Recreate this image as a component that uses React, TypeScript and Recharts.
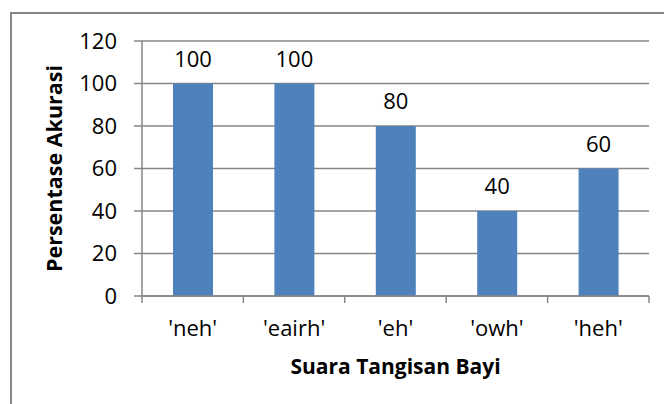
import React from "react";
import { BarChart, Bar, XAxis, YAxis, CartesianGrid, LabelList, Label } from "recharts";

const categories = ["'neh'", "'eairh'", "'eh'", "'owh'", "'heh'"];
const accuracy = [100, 100, 80, 40, 60];
const yTicks = [0, 20, 40, 60, 80, 100, 120];

const data = categories.map((name, i) => ({ name, value: accuracy[i] }));

const FONT = "'Open Sans', sans-serif";
const AXIS = "#868686";
const BAR = "#4F81BD";

// category label plus the small tick marks that sit between categories
const CategoryTick = (props: any) => {
  const { x, y, payload, index, visibleTicksCount } = props;
  const half = payload.offset || 0;
  const isLast = index === visibleTicksCount - 1;
  return (
    <g>
      <line x1={x - half} x2={x - half} y1={y} y2={y + 7} stroke={AXIS} strokeWidth={1.5} />
      {isLast && <line x1={x + half} x2={x + half} y1={y} y2={y + 7} stroke={AXIS} strokeWidth={1.5} />}
      <text x={x} y={y + 40} textAnchor="middle" fill="#000" fontSize={22} fontFamily={FONT}>
        {payload.value}
      </text>
    </g>
  );
};

export default function App() {
  return (
    <div style={{ position: "relative", width: 664, height: 404, overflow: "hidden", background: "#fff", fontFamily: FONT }}>
      <style>{"body{margin:0}"}</style>
      {/* chart frame, cut off on the right and bottom */}
      <div
        style={{
          position: "absolute",
          left: 10,
          top: 12,
          width: 700,
          height: 450,
          border: `2px solid ${AXIS}`,
        }}
      />
      <div style={{ position: "absolute", left: 0, top: 0 }}>
        <BarChart
          width={664}
          height={404}
          data={data}
          margin={{ top: 41, right: 15, bottom: 0, left: 30 }}
        >
          <CartesianGrid vertical={false} stroke={AXIS} strokeWidth={1.5} />
          <XAxis
            dataKey="name"
            height={108}
            axisLine={{ stroke: AXIS, strokeWidth: 1.5 }}
            tickLine={false}
            tickSize={0}
            tickMargin={0}
            tick={<CategoryTick />}
            interval={0}
          >
            <Label
              value="Suara Tangisan Bayi"
              position="insideBottom"
              offset={30}
              style={{ fill: "#000", fontSize: 21, fontWeight: 700, fontFamily: FONT }}
            />
          </XAxis>
          <YAxis
            width={112}
            domain={[0, 120]}
            ticks={yTicks}
            axisLine={{ stroke: AXIS, strokeWidth: 1.5 }}
            tickLine={{ stroke: AXIS, strokeWidth: 1.5 }}
            tickSize={8}
            tickMargin={17}
            tick={{ fill: "#000", fontSize: 22, fontFamily: FONT }}
          >
            <Label
              value="Persentase Akurasi"
              angle={-90}
              position="insideLeft"
              offset={24}
              textAnchor="middle"
              style={{ fill: "#000", fontSize: 21.5, fontWeight: 700, fontFamily: FONT, textAnchor: "middle" }}
            />
          </YAxis>
          <Bar dataKey="value" fill={BAR} barSize={40} isAnimationActive={false}>
            <LabelList
              dataKey="value"
              position="top"
              offset={17}
              style={{ fill: "#000", fontSize: 22, fontFamily: FONT }}
            />
          </Bar>
        </BarChart>
      </div>
    </div>
  );
}
